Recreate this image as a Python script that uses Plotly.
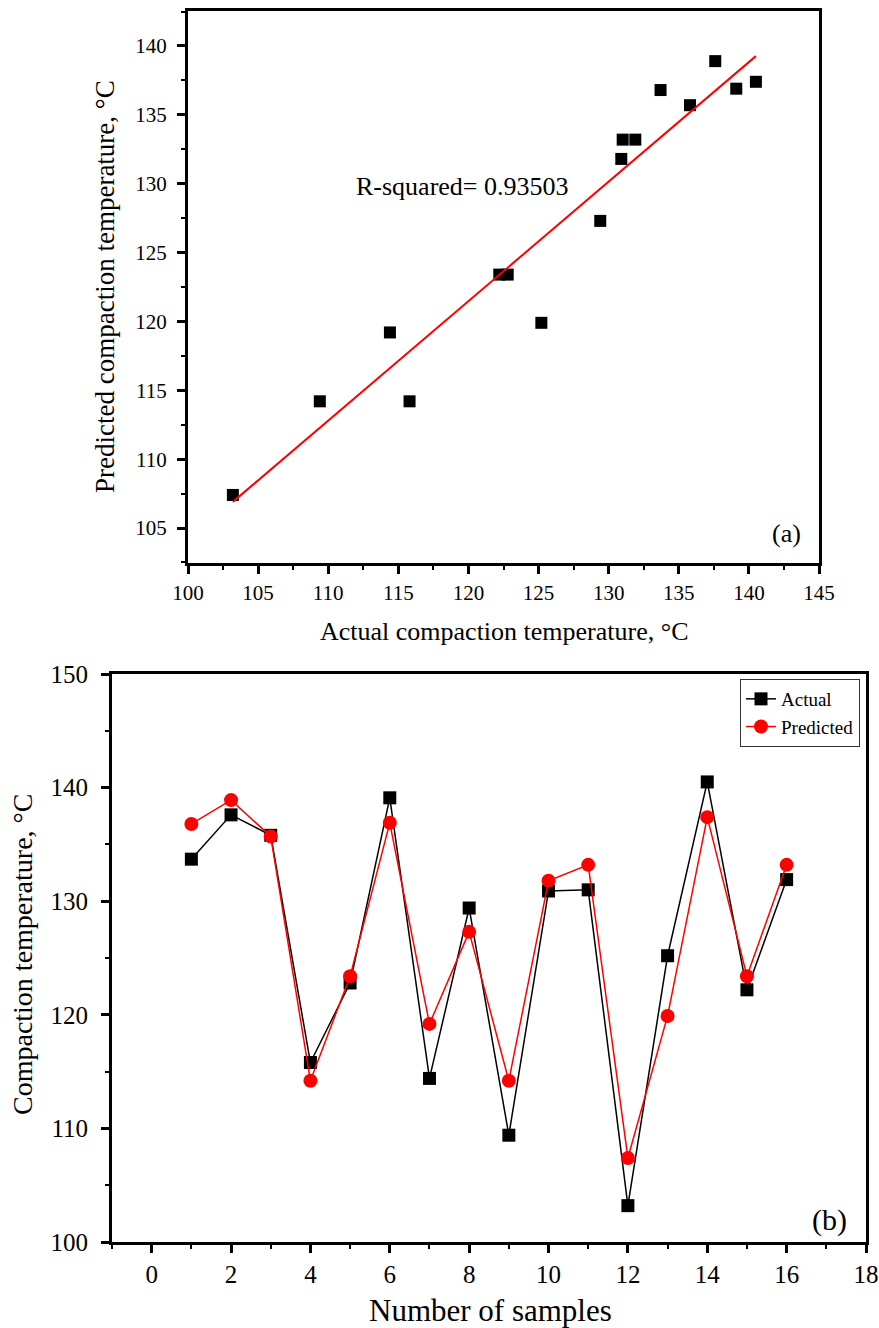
import numpy as np
import plotly.graph_objects as go

samples = list(range(1, 17))
actual = [133.7, 137.6, 135.8, 115.8, 122.8, 139.1, 114.4, 129.4,
          109.4, 130.9, 131.0, 103.2, 125.2, 140.5, 122.2, 131.9]
predicted = [136.8, 138.9, 135.7, 114.2, 123.4, 136.9, 119.2, 127.3,
             114.2, 131.8, 133.2, 107.4, 119.9, 137.4, 123.4, 133.2]
r2_text = "R-squared= 0.93503"

FONT = "Liberation Serif"
W, H = 879, 1328

slope, intercept = np.polyfit(actual, predicted, 1)
fx = np.array([min(actual), max(actual)])
fy = slope * fx + intercept

fig = go.Figure()
# (a) scatter
fig.add_trace(go.Scatter(x=actual, y=predicted, mode="markers",
                         marker=dict(symbol="square", size=12, color="black"),
                         xaxis="x", yaxis="y", showlegend=False))
fig.add_trace(go.Scatter(x=fx, y=fy, mode="lines",
                         line=dict(color="red", width=2),
                         xaxis="x", yaxis="y", showlegend=False))
# (b) lines
fig.add_trace(go.Scatter(x=samples, y=actual, mode="lines+markers", name="Actual",
                         line=dict(color="black", width=1.5),
                         marker=dict(symbol="square", size=13, color="black"),
                         xaxis="x2", yaxis="y2"))
fig.add_trace(go.Scatter(x=samples, y=predicted, mode="lines+markers", name="Predicted",
                         line=dict(color="red", width=1.5),
                         marker=dict(symbol="circle", size=14, color="red"),
                         xaxis="x2", yaxis="y2"))

def ax(domain, rng, dtick, minor_dtick, tickfont, anchor, standoff):
    return dict(domain=domain, range=rng, dtick=dtick, tick0=0, automargin=False,
                showgrid=False, zeroline=False,
                showline=True, linewidth=3, linecolor="black", mirror=True,
                ticks="outside", ticklen=8, tickwidth=3, tickcolor="black",
                ticklabelstandoff=standoff,
                minor=dict(dtick=minor_dtick, tick0=0, ticks="outside", ticklen=4,
                           tickwidth=2, tickcolor="black", showgrid=False),
                tickfont=dict(family=FONT, size=tickfont, color="black"),
                anchor=anchor)

fig.update_layout(
    width=W, height=H, margin=dict(l=0, r=0, t=0, b=0, autoexpand=False),
    paper_bgcolor="white", plot_bgcolor="white",
    font=dict(family=FONT, color="black"),
    xaxis=ax([188/W, 819/W], [100, 145], 5, 2.5, 21, "y", 1),
    yaxis=ax([1-563/H, 1-11/H], [102.46, 142.54], 5, 2.5, 21, "x", 6),
    xaxis2=ax([112/W, 866/W], [-1, 18], 2, 1, 25, "y2", 0),
    yaxis2=ax([1-1242/H, 1-674/H], [100, 150], 10, 5, 25, "x2", 8),
    legend=dict(x=860/W, y=1-679/H, xanchor="right", yanchor="top",
                bordercolor="#333", borderwidth=1, bgcolor="white",
                font=dict(family=FONT, size=19, color="black"),
                tracegroupgap=0, itemwidth=30),
)

annots = [
    dict(text=r2_text, x=462/W, y=1-187/H, size=26),
    dict(text="(a)", x=786/W, y=1-533/H, size=26),
    dict(text="(b)", x=829/W, y=1-1220/H, size=30),
    dict(text="Actual compaction temperature, °C", x=504/W, y=1-631/H, size=26),
    dict(text="Number of samples", x=490/W, y=1-1310/H, size=31),
    dict(text="Predicted compaction temperature, °C", x=105/W, y=1-287/H, size=27, angle=-90),
    dict(text="Compaction temperature, °C", x=23/W, y=1-955/H, size=28, angle=-90),
]
for a in annots:
    fig.add_annotation(text=a["text"], x=a["x"], y=a["y"], xref="paper", yref="paper",
                       xanchor="center", yanchor="middle", showarrow=False,
                       textangle=a.get("angle", 0),
                       font=dict(family=FONT, size=a["size"], color="black"))

fig.write_html("out.html")
